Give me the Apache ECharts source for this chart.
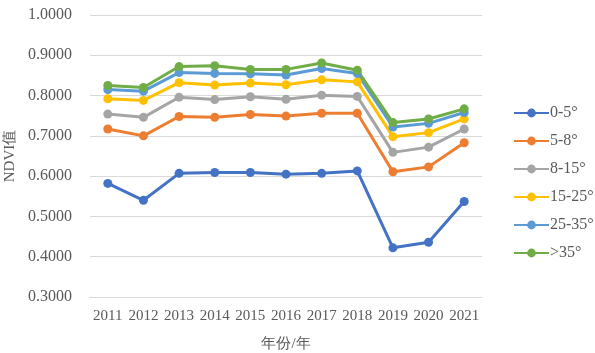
<!DOCTYPE html>
<html>
<head>
<meta charset="UTF-8">
<title>NDVI</title>
<script src="https://cdn.jsdelivr.net/npm/echarts@6/dist/echarts.min.js"></script>
<style>
  html, body { margin: 0; padding: 0; background: #fff; }
  #chart { width: 595px; height: 353px; }
</style>
</head>
<body>
<div id="chart"></div>
<script>
var years = ['2011', '2012', '2013', '2014', '2015', '2016', '2017', '2018', '2019', '2020', '2021'];
var names = ['0-5°', '5-8°', '8-15°', '15-25°', '25-35°', '>35°'];
var s0_5   = [0.582, 0.540, 0.607, 0.609, 0.609, 0.605, 0.607, 0.613, 0.422, 0.436, 0.537];
var s5_8   = [0.717, 0.700, 0.748, 0.746, 0.753, 0.749, 0.756, 0.756, 0.611, 0.623, 0.683];
var s8_15  = [0.754, 0.746, 0.796, 0.790, 0.797, 0.791, 0.801, 0.798, 0.659, 0.672, 0.717];
var s15_25 = [0.792, 0.788, 0.832, 0.826, 0.831, 0.827, 0.839, 0.834, 0.698, 0.708, 0.742];
var s25_35 = [0.815, 0.811, 0.857, 0.855, 0.854, 0.851, 0.867, 0.855, 0.722, 0.731, 0.758];
var s35    = [0.825, 0.820, 0.872, 0.874, 0.865, 0.865, 0.881, 0.863, 0.733, 0.742, 0.767];
var colors = ['#4472C4', '#ED7D31', '#A5A5A5', '#FFC000', '#5B9BD5', '#70AD47'];

var allData = [s0_5, s5_8, s8_15, s15_25, s25_35, s35];
var font = '"Liberation Serif", "Times New Roman", serif';

var series = [];
for (var i = 0; i < names.length; i++) {
  series.push({
    name: names[i],
    type: 'line',
    data: allData[i],
    symbol: 'circle',
    symbolSize: 9,
    lineStyle: { width: 3, color: colors[i] },
    itemStyle: { color: colors[i] }
  });
}

var myChart = echarts.init(document.getElementById('chart'));
var option = {
  animation: false,
  color: colors,
  grid: { left: 90, right: 113, top: 15, bottom: 56, outerBoundsMode: 'none' },
  legend: {
    orient: 'vertical',
    left: 508,
    top: 100,
    itemWidth: 35,
    itemHeight: 11,
    itemGap: 12,
    data: names,
    textStyle: { fontFamily: font, fontSize: 16, color: '#595959', padding: [0, 0, 0, -4] }
  },
  xAxis: {
    type: 'category',
    data: years,
    boundaryGap: true,
    name: '年份/年',
    nameLocation: 'middle',
    nameGap: 40,
    nameTextStyle: { fontFamily: font, fontSize: 15, color: '#595959' },
    axisLine: { lineStyle: { color: '#d9d9d9' } },
    axisTick: { show: false },
    axisLabel: { interval: 0, fontFamily: font, fontSize: 15, color: '#595959', margin: 12 }
  },
  yAxis: {
    type: 'value',
    min: 0.3,
    max: 1.0,
    interval: 0.1,
    name: 'NDVI值',
    nameLocation: 'middle',
    nameGap: 68,
    nameTextStyle: { fontFamily: font, fontSize: 15, color: '#595959' },
    axisLine: { show: false },
    axisTick: { show: false },
    splitLine: { lineStyle: { color: '#d9d9d9', width: 1 } },
    axisLabel: {
      fontFamily: font, fontSize: 16, color: '#595959', margin: 18,
      formatter: function (v) { return v.toFixed(4); }
    }
  },
  series: series
};
myChart.setOption(option);
</script>
</body>
</html>
